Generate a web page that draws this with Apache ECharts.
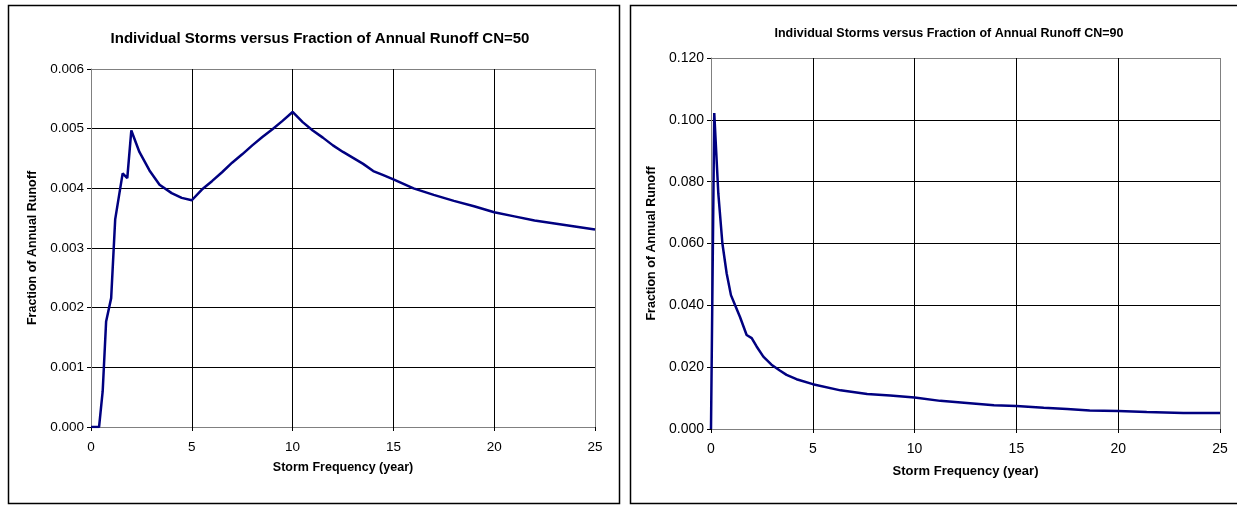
<!DOCTYPE html>
<html>
<head>
<meta charset="utf-8">
<script src="https://cdn.jsdelivr.net/npm/echarts@6/dist/echarts.min.js"></script>
<style>
  html, body { margin: 0; padding: 0; background: #fff; }
  #chart { width: 1237px; height: 507px; }
</style>
</head>
<body>
<div id="chart"></div>
<script>
// storm frequency (year) vs fraction of annual runoff
const cn50Years = [0, 0.25, 0.4, 0.58, 0.75, 1.0, 1.2, 1.57, 1.8, 2.0, 2.4, 2.9, 3.4, 4.0, 4.5, 5.0,
  5.5, 6.0, 6.5, 7.0, 7.5, 8.0, 8.5, 9.0, 9.5, 10, 10.5, 11, 11.5, 12, 12.5, 13, 13.5, 14, 14.5,
  15, 16, 17, 18, 19, 20, 21, 22, 23, 24, 25];
const cn50Runoff = [0, 0, 0, 0.0006, 0.00177, 0.00216, 0.00348, 0.00425, 0.00417, 0.00497, 0.00461,
  0.0043, 0.00406, 0.00392, 0.00384, 0.0038, 0.00398, 0.00412, 0.00427, 0.00443, 0.00457, 0.00472,
  0.00486, 0.00499, 0.00513, 0.00528, 0.00511, 0.00497, 0.00485, 0.00472, 0.00461, 0.00451, 0.00441,
  0.00429, 0.00422, 0.00415, 0.004, 0.00389, 0.00379, 0.0037, 0.0036, 0.00353, 0.00346, 0.00341,
  0.00336, 0.00331];

const cn90Years = [0, 0.16, 0.36, 0.56, 0.77, 0.98, 1.18, 1.42, 1.75, 2.0, 2.24, 2.57, 2.97, 3.38,
  3.71, 4.2, 5, 6.36, 7.67, 8.8, 10, 11.26, 12.57, 13.9, 15, 16.34, 17.49, 18.6, 20, 21.4, 23.2, 25];
const cn90Runoff = [0, 0.1022, 0.0761, 0.06, 0.0503, 0.0433, 0.0401, 0.0363, 0.0304, 0.0294, 0.0267,
  0.0234, 0.0208, 0.0189, 0.0175, 0.0161, 0.0145, 0.0125, 0.0113, 0.0108, 0.0102, 0.0091, 0.0084,
  0.0077, 0.0074, 0.0069, 0.0065, 0.006, 0.0058, 0.0055, 0.0052, 0.0052];

const titles = [
  'Individual Storms versus Fraction of Annual Runoff CN=50',
  'Individual Storms versus Fraction of Annual Runoff CN=90'
];
const xName = 'Storm Frequency (year)';
const yName = 'Fraction of Annual Runoff';

const font = 'Liberation Sans, Arial, sans-serif';
const lineColor = '#000080';

const pair = (xs, ys) => xs.map((x, i) => [x, ys[i]]);

function xAxis(gridIndex, nameGap, nameSize, labelSize) {
  return {
    type: 'value', gridIndex, min: 0, max: 25, interval: 5,
    name: xName, nameLocation: 'middle', nameGap,
    nameTextStyle: { fontFamily: font, fontSize: nameSize, fontWeight: 'bold', color: '#000' },
    axisLine: { show: true, lineStyle: { color: '#808080', width: 1 } },
    axisTick: { show: true, length: 4, lineStyle: { color: '#000' } },
    axisLabel: { fontFamily: font, fontSize: labelSize, color: '#000', margin: 13 },
    splitLine: { show: true, lineStyle: { color: ['#808080', '#000', '#000', '#000', '#000', '#808080'], width: 1 } }
  };
}

function yAxis(gridIndex, max, interval, nameGap, nameSize, labelSize) {
  const n = Math.round(max / interval) + 1;
  const colors = [];
  for (let i = 0; i < n; i++) colors.push(i === 0 || i === n - 1 ? '#808080' : '#000');
  return {
    type: 'value', gridIndex, min: 0, max, interval,
    name: yName, nameLocation: 'middle', nameGap, nameRotate: 90,
    nameTextStyle: { fontFamily: font, fontSize: nameSize, fontWeight: 'bold', color: '#000' },
    axisLine: { show: true, lineStyle: { color: '#808080', width: 1 } },
    axisTick: { show: true, length: 4, lineStyle: { color: '#000' } },
    axisLabel: { fontFamily: font, fontSize: labelSize, color: '#000', margin: 7, formatter: v => v.toFixed(3) },
    splitLine: { show: true, lineStyle: { color: colors, width: 1 } }
  };
}

const chart = echarts.init(document.getElementById('chart'), null, { renderer: 'canvas' });
chart.setOption({
  backgroundColor: '#fff',
  animation: false,
  graphic: [
    { type: 'rect', shape: { x: 8.5, y: 5.5, width: 611, height: 498 }, style: { fill: 'none', stroke: '#000', lineWidth: 1.5 } },
    { type: 'rect', shape: { x: 630.5, y: 5.5, width: 620, height: 498 }, style: { fill: 'none', stroke: '#000', lineWidth: 1.5 } }
  ],
  title: [
    { text: titles[0], left: 315, top: 26, textAlign: 'center',
      textStyle: { fontFamily: font, fontSize: 15, fontWeight: 'bold', color: '#000' } },
    { text: titles[1], left: 944, top: 22, textAlign: 'center',
      textStyle: { fontFamily: font, fontSize: 12.5, fontWeight: 'bold', color: '#000' } }
  ],
  grid: [
    { left: 91, top: 69, width: 504, height: 358 },
    { left: 711, top: 58, width: 509, height: 371 }
  ],
  xAxis: [xAxis(0, 34, 12.5, 13.5), xAxis(1, 36, 13, 14)],
  yAxis: [yAxis(0, 0.006, 0.001, 52, 12.5, 13.5), yAxis(1, 0.12, 0.02, 53, 12.5, 14)],
  series: [
    { type: 'line', xAxisIndex: 0, yAxisIndex: 0, data: pair(cn50Years, cn50Runoff),
      showSymbol: false, lineStyle: { color: lineColor, width: 2.5 } },
    { type: 'line', xAxisIndex: 1, yAxisIndex: 1, data: pair(cn90Years, cn90Runoff),
      showSymbol: false, lineStyle: { color: lineColor, width: 2.5 } }
  ]
});
</script>
</body>
</html>
